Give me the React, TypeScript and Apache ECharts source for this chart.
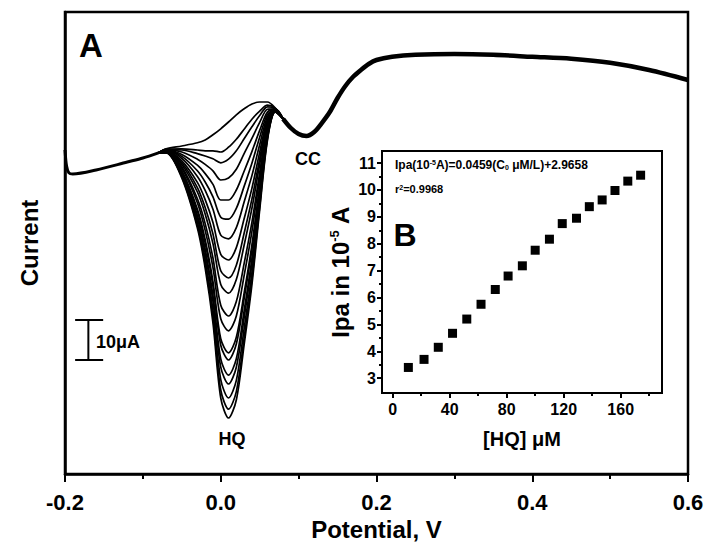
import React, { useEffect, useRef } from "react";
import * as echarts from "echarts";

// ---- Main panel (A): differential pulse voltammograms ----
// Potential (V) grid used for every HQ curve in the oxidation region
const potentialGrid = [-0.07, -0.05, -0.03, -0.02, -0.01, 0, 0.01, 0.02, 0.03, 0.04, 0.05, 0.06, 0.07];
const joinLeft = [-0.08, 80.3];
const joinRight = [0.08, 88.8];

// Current (µA, arbitrary offset) for each curve, blank first, then increasing [HQ]
const hqCurves = [
  [81.3, 82.0, 82.8, 83.5, 84.8, 86.3, 88.0, 89.8, 91.3, 92.5, 93.0, 93.0, 91.5],
  [81.2, 81.3, 81.0, 80.8, 80.8, 80.5, 81.7, 83.7, 86.2, 88.7, 90.7, 92.2, 91.4],
  [81.1, 81.0, 80.1, 79.5, 78.8, 77.8, 78.7, 80.8, 83.8, 86.8, 89.6, 91.8, 91.4],
  [81.1, 80.5, 78.7, 77.4, 75.8, 73.5, 74.0, 76.2, 80.1, 83.9, 87.9, 91.2, 91.3],
  [81.0, 79.9, 77.2, 75.1, 72.4, 68.5, 68.5, 71.0, 75.7, 80.6, 85.9, 90.5, 91.2],
  [80.9, 79.4, 75.8, 73.0, 69.3, 64.2, 63.7, 66.4, 71.9, 77.7, 84.2, 89.9, 91.2],
  [80.9, 78.9, 74.4, 70.9, 66.2, 59.7, 58.8, 61.6, 68.0, 74.6, 82.3, 89.3, 91.1],
  [80.8, 78.3, 72.9, 68.6, 62.9, 54.9, 53.5, 56.6, 63.8, 71.4, 80.4, 88.6, 91.0],
  [80.7, 77.8, 71.6, 66.6, 60.0, 50.8, 49.0, 52.2, 60.2, 68.7, 78.8, 88.0, 91.0],
  [80.7, 77.4, 70.5, 65.0, 57.6, 47.4, 45.2, 48.6, 57.2, 66.4, 77.4, 87.5, 90.9],
  [80.6, 76.8, 68.8, 62.6, 54.0, 42.2, 39.5, 43.1, 52.6, 62.9, 75.3, 86.8, 90.9],
  [80.6, 76.4, 67.8, 60.9, 51.6, 38.8, 35.8, 39.5, 49.6, 60.6, 74.0, 86.3, 90.8],
  [80.5, 75.8, 66.2, 58.6, 48.1, 33.8, 30.3, 34.2, 45.2, 57.2, 72.0, 85.6, 90.7],
  [80.5, 75.6, 65.7, 57.8, 47.0, 32.2, 28.5, 32.5, 43.8, 56.1, 71.3, 85.4, 90.7],
  [80.4, 75.2, 64.6, 56.2, 44.6, 28.8, 24.7, 28.8, 40.8, 53.8, 69.9, 84.9, 90.7],
  [80.4, 74.9, 64.0, 55.2, 43.2, 26.7, 22.5, 26.7, 39.0, 52.5, 69.1, 84.6, 90.6],
  [80.3, 74.6, 63.0, 53.7, 41.0, 23.6, 19.0, 23.4, 36.3, 50.3, 67.8, 84.2, 90.6],
  [80.3, 74.3, 62.1, 52.5, 39.2, 21.0, 16.2, 20.6, 34.0, 48.6, 66.8, 83.8, 90.5],
  [80.3, 74.0, 61.5, 51.5, 37.8, 19.0, 14.0, 18.5, 32.3, 47.3, 66.0, 83.5, 90.5],
];

// Shared baseline before the HQ peak
const leftPotential = [-0.2, -0.198, -0.195, -0.19, -0.16, -0.12, -0.1, -0.08];
const leftCurrent = [81.0, 77.0, 75.3, 75.0, 76.0, 78.0, 79.0, 80.3];

// Shared part after the HQ peak (CC peak and plateau)
const rightPotential = [0.08, 0.09, 0.1, 0.11, 0.12, 0.13, 0.14, 0.15, 0.16, 0.17, 0.18, 0.19, 0.2, 0.22, 0.25, 0.3, 0.35, 0.4, 0.45, 0.5, 0.55, 0.6];
const rightCurrent = [88.8, 86.5, 85.0, 84.5, 85.5, 87.8, 90.5, 94.0, 97.0, 99.3, 101.0, 102.5, 103.5, 104.3, 104.8, 105.0, 104.8, 104.3, 103.8, 102.8, 101.0, 98.5];

// Scale bar (10 µA)
const scaleBarPotential = [-0.187, -0.17, -0.151];
const scaleBarCurrent = [38.5, 28.5];

const mainMinorTicks = [-0.1, 0.1, 0.3, 0.5];

// ---- Inset (B): calibration ----
const hqConc = [11, 22, 32, 42, 52, 62, 72, 81, 91, 100, 110, 119, 129, 138, 147, 156, 165, 174];
const ipa = [3.4, 3.7, 4.15, 4.67, 5.2, 5.75, 6.3, 6.8, 7.18, 7.76, 8.17, 8.75, 8.95, 9.38, 9.63, 9.98, 10.33, 10.55];
const insetXTicks = [0, 40, 80, 120, 160];
const insetXMinor = [20, 60, 100, 140, 180];
const insetYTicks = [3, 4, 5, 6, 7, 8, 9, 10, 11];
const insetYMinor = [3.5, 4.5, 5.5, 6.5, 7.5, 8.5, 9.5, 10.5];

const FONT = "'Liberation Sans', Arial, sans-serif";

export default function App() {
  const ref = useRef<HTMLDivElement>(null);
  useEffect(() => {
    const chart = echarts.init(ref.current!, null, { renderer: "svg" });

    const lineBase = {
      type: "line",
      xAxisIndex: 0,
      yAxisIndex: 0,
      showSymbol: false,
      symbol: "none",
      smooth: 0.3,
      silent: true,
    };

    const series: any[] = [];
    series.push({
      ...lineBase,
      data: leftPotential.map((v, i) => [v, leftCurrent[i]]),
      lineStyle: { color: "#000", width: 3 },
    });
    hqCurves.forEach((curve) => {
      series.push({
        ...lineBase,
        data: [joinLeft, ...potentialGrid.map((v, i) => [v, curve[i]]), joinRight],
        lineStyle: { color: "#000", width: 1.7 },
      });
    });
    series.push({
      ...lineBase,
      data: rightPotential.map((v, i) => [v, rightCurrent[i]]),
      lineStyle: { color: "#000", width: 4.5 },
    });
    // scale bar
    const sbStyle = { color: "#000", width: 2 };
    series.push({ ...lineBase, smooth: false, data: [[scaleBarPotential[0], scaleBarCurrent[0]], [scaleBarPotential[2], scaleBarCurrent[0]]], lineStyle: sbStyle });
    series.push({ ...lineBase, smooth: false, data: [[scaleBarPotential[1], scaleBarCurrent[0]], [scaleBarPotential[1], scaleBarCurrent[1]]], lineStyle: sbStyle });
    series.push({ ...lineBase, smooth: false, data: [[scaleBarPotential[0], scaleBarCurrent[1]], [scaleBarPotential[2], scaleBarCurrent[1]]], lineStyle: sbStyle });

    series.push({
      type: "scatter",
      xAxisIndex: 1,
      yAxisIndex: 1,
      symbol: "rect",
      symbolSize: 9,
      itemStyle: { color: "#000", opacity: 1 },
      data: hqConc.map((c, i) => [c, ipa[i]]),
      silent: true,
    });

    const bold = { fontWeight: "bold", color: "#000", fontFamily: FONT };

    chart.setOption({
      animation: false,
      textStyle: { fontFamily: FONT },
      grid: [
        { left: 65, top: 12, width: 623, height: 462, show: true, borderColor: "#000", borderWidth: 2.5, backgroundColor: "transparent" },
        { left: 382, top: 151, width: 280, height: 242, show: true, borderColor: "#000", borderWidth: 2, backgroundColor: "#fff" },
      ],
      xAxis: [
        {
          type: "value", gridIndex: 0, min: -0.2, max: 0.6, interval: 0.2, position: "bottom",
          axisLine: { onZero: false, lineStyle: { color: "#000", width: 2.5 } },
          axisTick: { length: 8, lineStyle: { color: "#000", width: 2 } },
          splitLine: { show: false },
          axisLabel: { ...bold, fontSize: 22, margin: 17, formatter: (v: number) => v.toFixed(1) },
          name: "Potential, V", nameLocation: "middle", nameGap: 41,
          nameTextStyle: { ...bold, fontSize: 24 },
        },
        {
          type: "value", gridIndex: 1, min: -7.5, max: 189, position: "bottom",
          axisLine: { onZero: false, lineStyle: { color: "#000", width: 2 } },
          axisTick: { length: 5, lineStyle: { color: "#000", width: 2 }, customValues: insetXTicks },
          splitLine: { show: false },
          axisLabel: { ...bold, fontSize: 16, margin: 8, customValues: insetXTicks },
          name: "[HQ] μM", nameLocation: "middle", nameGap: 36,
          nameTextStyle: { ...bold, fontSize: 20 },
        },
        {
          type: "value", gridIndex: 1, min: -7.5, max: 189, position: "bottom",
          axisLine: { show: false, onZero: false },
          axisTick: { length: 3, lineStyle: { color: "#000", width: 2 }, customValues: insetXMinor },
          axisLabel: { show: false },
          splitLine: { show: false },
        },
        {
          type: "value", gridIndex: 0, min: -0.2, max: 0.6, position: "bottom",
          axisLine: { show: false, onZero: false },
          axisTick: { length: 5, lineStyle: { color: "#000", width: 2 }, customValues: mainMinorTicks },
          axisLabel: { show: false },
          splitLine: { show: false },
        },
      ],
      yAxis: [
        {
          type: "value", gridIndex: 0, min: 0, max: 115.5,
          axisLine: { show: true, onZero: false, lineStyle: { color: "#000", width: 2.5 } },
          axisTick: { show: false },
          axisLabel: { show: false },
          splitLine: { show: false },
          name: "Current", nameLocation: "middle", nameGap: 24,
          nameTextStyle: { ...bold, fontSize: 24 },
        },
        {
          type: "value", gridIndex: 1, min: 2.45, max: 11.45, position: "left",
          axisLine: { show: true, onZero: false, lineStyle: { color: "#000", width: 2 } },
          axisTick: { show: true, length: 5, lineStyle: { color: "#000", width: 2 }, customValues: insetYTicks },
          axisLabel: { ...bold, fontSize: 16, margin: 6, customValues: insetYTicks },
          splitLine: { show: false },
          name: "Ipa in 10{sup|-5} A", nameLocation: "middle", nameGap: 30,
          nameTextStyle: {
            ...bold, fontSize: 24,
            rich: { sup: { ...bold, fontSize: 13, verticalAlign: "top" } },
          },
        },
        {
          type: "value", gridIndex: 1, min: 2.45, max: 11.45, position: "left",
          axisLine: { show: false, onZero: false },
          axisTick: { show: true, length: 3, lineStyle: { color: "#000", width: 2 }, customValues: insetYMinor },
          axisLabel: { show: false },
          splitLine: { show: false },
        },
      ],
      series,
      graphic: [
        { type: "text", x: 91, y: 45, style: { text: "A", font: `bold 33px ${FONT}`, fill: "#000", textAlign: "center", textVerticalAlign: "middle" } },
        { type: "text", x: 308, y: 159, style: { text: "CC", font: `bold 18px ${FONT}`, fill: "#000", textAlign: "center", textVerticalAlign: "middle" } },
        { type: "text", x: 232, y: 439, style: { text: "HQ", font: `bold 18px ${FONT}`, fill: "#000", textAlign: "center", textVerticalAlign: "middle" } },
        { type: "text", x: 96, y: 342, style: { text: "10μA", font: `bold 18px ${FONT}`, fill: "#000", textAlign: "left", textVerticalAlign: "middle" } },
        { type: "text", x: 405, y: 235, z: 10, style: { text: "B", font: `bold 32px ${FONT}`, fill: "#000", textAlign: "center", textVerticalAlign: "middle" } },
        {
          type: "text", x: 395, y: 165, z: 10,
          style: {
            text: "Ipa(10{sup|-5}A)=0.0459(C{sub|0} μM/L)+2.9658",
            font: `bold 12px ${FONT}`, fill: "#000", textAlign: "left", textVerticalAlign: "middle",
            rich: {
              sup: { fontSize: 7, fontWeight: "bold", fontFamily: FONT, fill: "#000", verticalAlign: "top" },
              sub: { fontSize: 7, fontWeight: "bold", fontFamily: FONT, fill: "#000", verticalAlign: "bottom" },
            },
          },
        },
        {
          type: "text", x: 395, y: 189, z: 10,
          style: {
            text: "r{sup|2}=0.9968",
            font: `bold 11px ${FONT}`, fill: "#000", textAlign: "left", textVerticalAlign: "middle",
            rich: { sup: { fontSize: 7, fontWeight: "bold", fontFamily: FONT, fill: "#000", verticalAlign: "top" } },
          },
        },
      ],
    });
    return () => chart.dispose();
  }, []);
  return <div ref={ref} style={{ position: "absolute", left: 0, top: 0, width: 707, height: 551 }} />;
}
